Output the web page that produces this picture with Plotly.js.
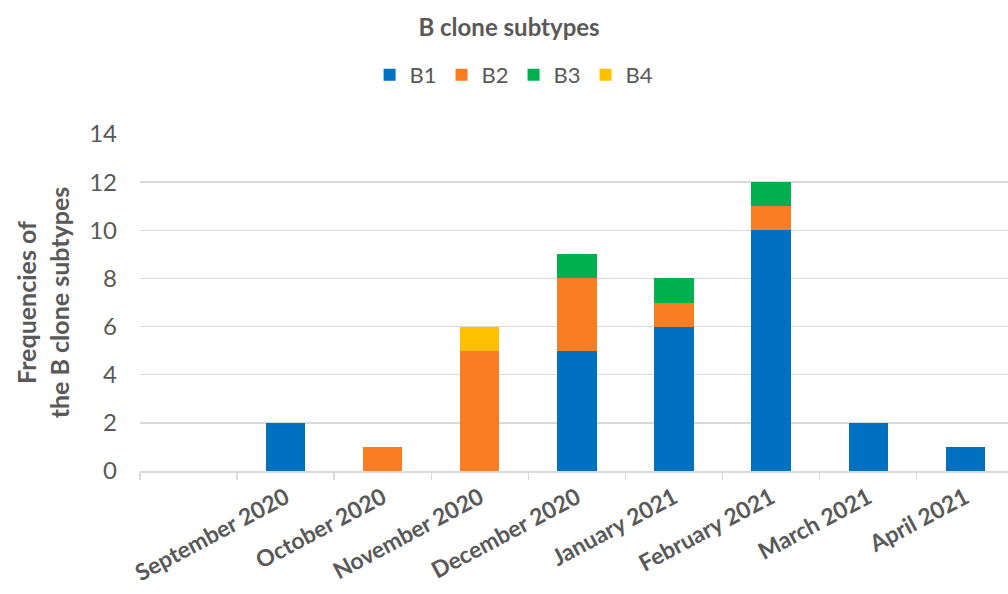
<!DOCTYPE html>
<html>
<head>
<meta charset="utf-8">
<script src="https://cdn.plot.ly/plotly-3.0.1.min.js"></script>
<style>html,body{margin:0;padding:0;background:#fff;}#chart{width:1008px;height:594px;}</style>
</head>
<body>
<div id="chart"></div>
<script>
// Categories (first slot is an empty category, as in the original chart)
var months = ["September 2020", "October 2020", "November 2020", "December 2020", "January 2021", "February 2021", "March 2021", "April 2021"];
var blankSlot = " ";
// Series values
var b1 = [2, 0, 0, 5, 6, 10, 2, 1];
var b2 = [0, 1, 5, 3, 1, 1, 0, 0];
var b3 = [0, 0, 0, 1, 1, 1, 0, 0];
var b4 = [0, 0, 1, 0, 0, 0, 0, 0];
var seriesNames = ["B1", "B2", "B3", "B4"];
var seriesColors = ["#0070C0", "#FA7D22", "#00B04F", "#FFC000"];
var yTicks = [0, 2, 4, 6, 8, 10, 12, 14];

var allSeries = [b1, b2, b3, b4];
var traces = allSeries.map(function (vals, i) {
  return {
    type: "bar",
    name: seriesNames[i],
    x: months,
    y: vals,
    marker: { color: seriesColors[i], line: { width: 0 } },
    hoverinfo: "x+y+name"
  };
});

var grey = "#595959";
var layout = {
  width: 1008,
  height: 594,
  barmode: "stack",
  bargap: 0.595,
  paper_bgcolor: "#ffffff",
  plot_bgcolor: "#ffffff",
  margin: { l: 140, r: 0, t: 134, b: 123, pad: 0 },
  font: { family: "Lato, 'Open Sans', sans-serif", color: grey },
  title: {
    text: "<b>B clone subtypes</b>",
    font: { family: "Lato, sans-serif", size: 24, color: grey },
    x: 0.505, xref: "container", xanchor: "center",
    y: 0.953, yref: "container", yanchor: "middle"
  },
  legend: {
    orientation: "h",
    x: 0.51, xref: "container", xanchor: "center",
    y: 0.874, yref: "container", yanchor: "middle",
    font: { size: 22, color: grey },
    itemwidth: 30,
    traceorder: "normal"
  },
  xaxis: {
    type: "category",
    categoryorder: "array",
    categoryarray: [blankSlot].concat(months),
    range: [-0.5, 8.44],
    tickson: "boundaries",
    ticks: "outside",
    ticklen: 7,
    tickwidth: 1.5,
    tickcolor: "#D9D9D9",
    tickangle: -28,
    ticklabelstandoff: 3,
    tickfont: { family: "Lato, sans-serif", size: 23, color: grey, weight: "bold" },
    showline: true,
    linecolor: "#D9D9D9",
    linewidth: 1.5,
    showgrid: false,
    zeroline: false,
    fixedrange: true
  },
  yaxis: {
    range: [0, 14],
    tickvals: yTicks,
    ticktext: yTicks.map(String),
    tickfont: { family: "Lato, sans-serif", size: 24, color: grey },
    ticks: "",
    ticklabelstandoff: 22,
    showgrid: true,
    gridcolor: "#D9D9D9",
    gridwidth: 1.5,
    zeroline: false,
    showline: false,
    title: {
      text: "<b>Frequencies of<br>the B clone subtypes</b>",
      font: { family: "Lato, sans-serif", size: 25, color: grey },
      standoff: 12
    },
    fixedrange: true
  }
};

Plotly.newPlot("chart", traces, layout, { displayModeBar: false, staticPlot: true });
</script>
</body>
</html>
